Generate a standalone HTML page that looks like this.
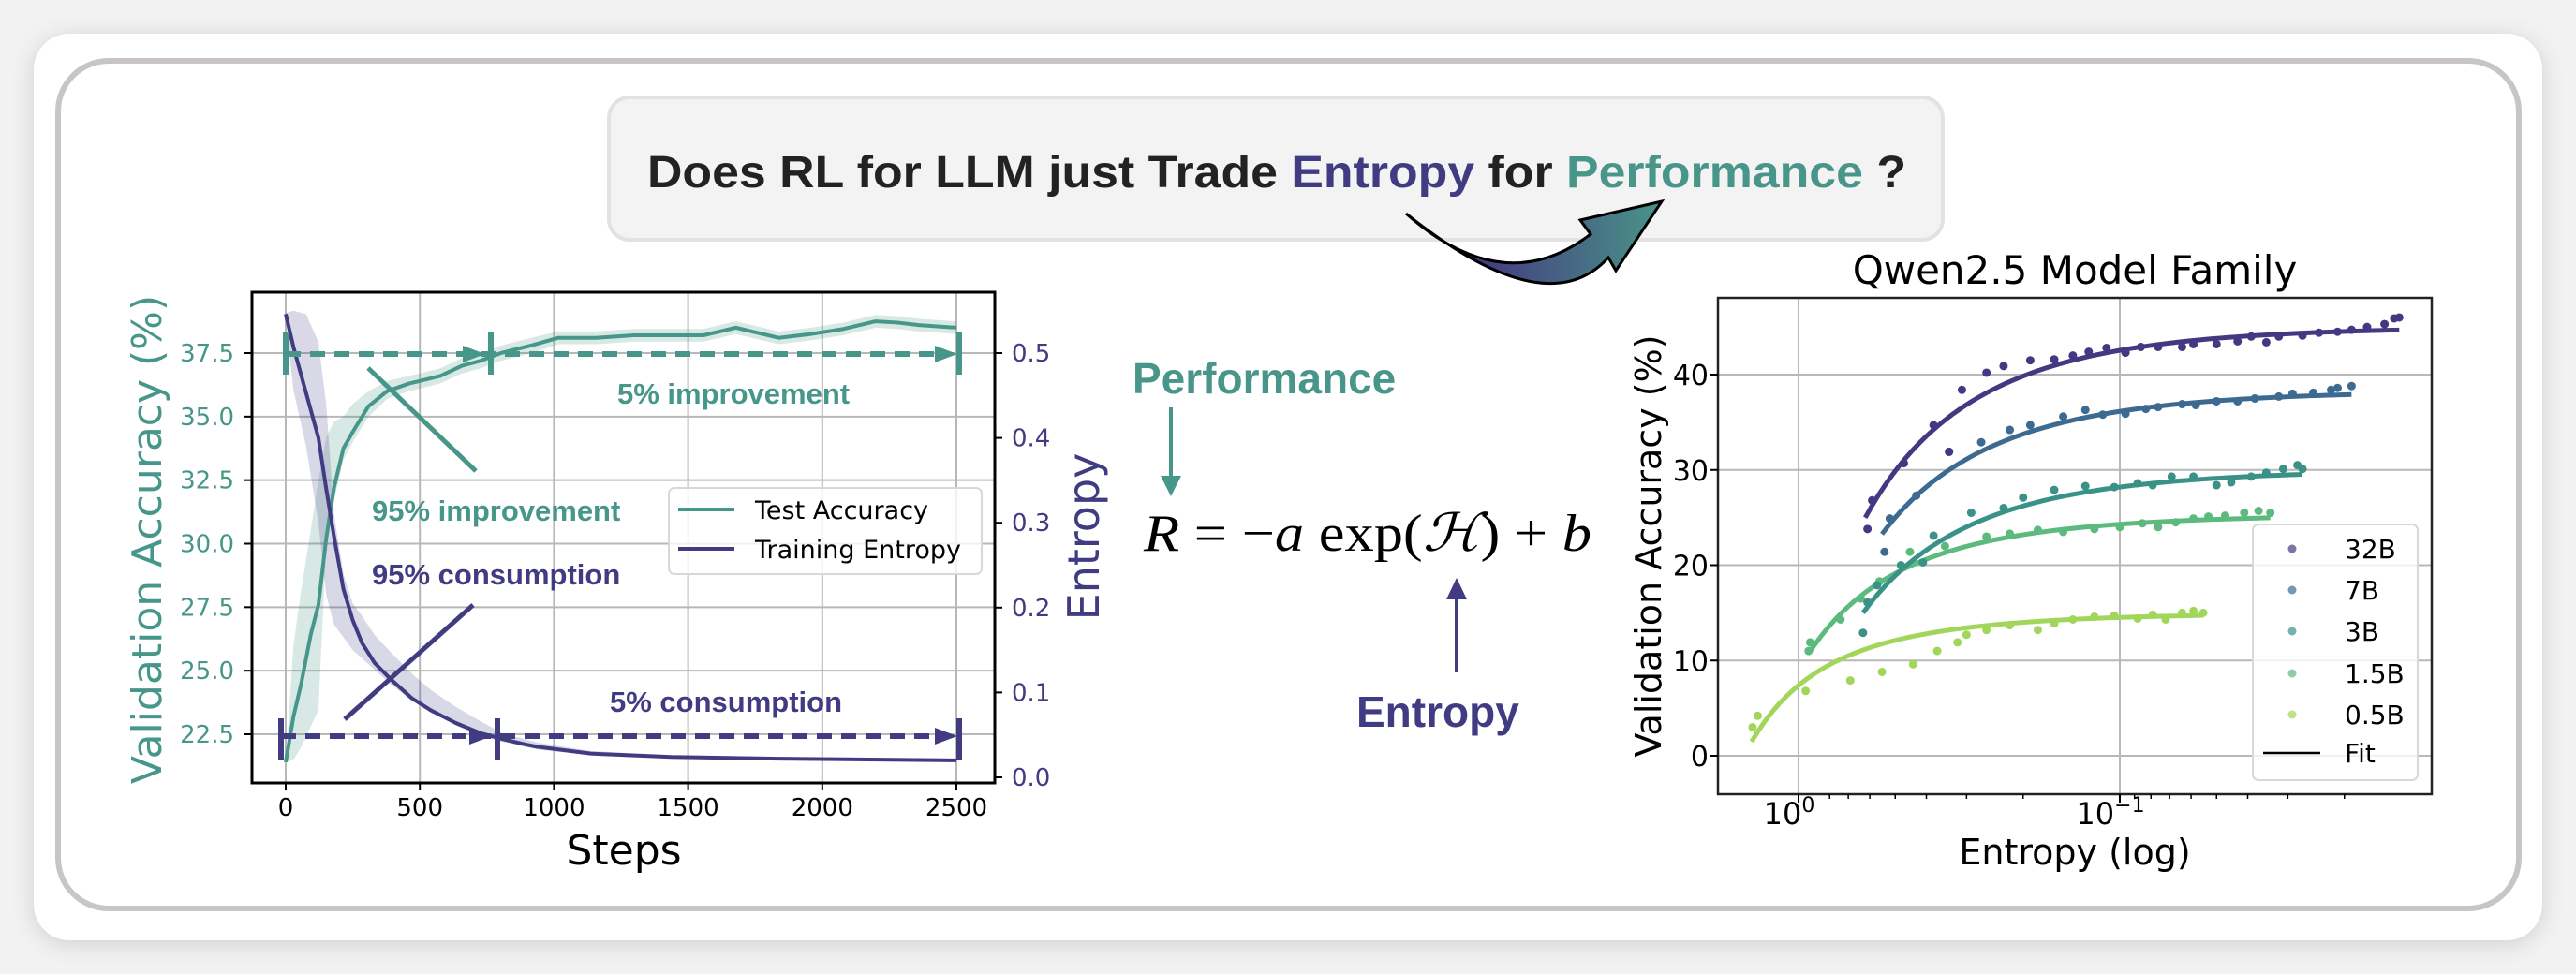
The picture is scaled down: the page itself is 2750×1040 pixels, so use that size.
<!DOCTYPE html>
<html><head><meta charset="utf-8"><style>
html,body{margin:0;padding:0;background:#f0f0f0;}
svg{display:block;}
</style></head><body>
<svg id="root" width="2750" height="1040" viewBox="0 0 2750 1040" xmlns="http://www.w3.org/2000/svg">
<defs>
<filter id="sh" x="-5%" y="-5%" width="110%" height="110%"><feGaussianBlur stdDeviation="12"/></filter>
<linearGradient id="arrG" x1="0" y1="0" x2="1" y2="0"><stop offset="0.3" stop-color="#433d80"/><stop offset="1" stop-color="#4a9488"/></linearGradient>
</defs>
<rect x="0" y="0" width="2750" height="1040" fill="#f2f2f2"/>
<rect x="36" y="40" width="2678" height="968" rx="38" fill="#cfcfcf" filter="url(#sh)"/>
<rect x="36" y="36" width="2678" height="968" rx="38" fill="#ffffff"/>
<rect x="62" y="65" width="2627" height="905" rx="54" fill="none" stroke="#c9c5c5" stroke-width="6"/>

<g>
<rect x="650" y="104" width="1424" height="152" rx="22" fill="#f3f3f3" stroke="#e2e2e2" stroke-width="4"/>
<text x="691" y="200" font-family="Liberation Sans, sans-serif" font-weight="bold" font-size="48" fill="#222" textLength="1344" lengthAdjust="spacingAndGlyphs">Does RL for LLM just Trade <tspan fill="#413b82">Entropy</tspan> for <tspan fill="#48958a">Performance</tspan> ?</text>
</g>
<path d="M1501,228 Q1606,321 1698,250 L1687,235 L1774,215 L1725,289 L1717,275 Q1651,348 1501,228 Z" fill="url(#arrG)" stroke="#000" stroke-width="3" stroke-linejoin="miter"/>

<g id="left"></g>
<g id="right"></g>

<g>
<text x="1209" y="420" font-family="Liberation Sans, sans-serif" font-weight="bold" font-size="46" fill="#48958a">Performance</text>
<line x1="1250" y1="435" x2="1250" y2="512" stroke="#48958a" stroke-width="4"/>
<polygon points="1239,508 1261,508 1250,530" fill="#48958a"/>
<text x="1221" y="588" font-family="Liberation Serif, serif" font-size="56" fill="#000" textLength="478" lengthAdjust="spacingAndGlyphs"><tspan font-style="italic">R</tspan> = −<tspan font-style="italic">a</tspan> exp(<tspan font-style="italic">ℋ</tspan>) + <tspan font-style="italic">b</tspan></text>
<line x1="1555" y1="718" x2="1555" y2="637" stroke="#413b82" stroke-width="4"/>
<polygon points="1544,640 1566,640 1555,617" fill="#413b82"/>
<text x="1448" y="776" font-family="Liberation Sans, sans-serif" font-weight="bold" font-size="46" fill="#413b82">Entropy</text>
</g>
</svg>
<script>
// ---------- Left chart data ----------
const accSteps=[0,29,58,93,122,151,180,215,250,308,378,459,500,576,657,727,802,916,1016,1157,1297,1437,1557,1678,1758,1838,1958,2079,2199,2279,2360,2500];
const testAcc=[21.4,23.2,24.5,26.4,27.6,30.2,32.2,33.75,34.4,35.4,36.0,36.3,36.4,36.6,37.0,37.2,37.5,37.8,38.1,38.1,38.2,38.2,38.2,38.5,38.3,38.1,38.25,38.45,38.75,38.7,38.6,38.5];
const accHi=[21.4,26.0,28.2,30.5,32.5,34.2,34.8,35.0,35.5,36.0,36.4,36.6,36.7,36.9,37.3,37.5,37.8,38.1,38.35,38.35,38.45,38.45,38.45,38.75,38.55,38.35,38.5,38.7,39.0,38.95,38.85,38.75];
const accLo=[21.4,21.5,22.0,22.8,23.45,30.0,31.7,33.3,34.0,35.0,35.7,36.0,36.1,36.3,36.7,36.9,37.2,37.5,37.85,37.85,37.95,37.95,37.95,38.25,38.05,37.85,38.0,38.2,38.5,38.45,38.35,38.25];
const entSteps=[0,29,76,122,151,180,215,250,285,331,390,471,541,634,727,808,890,936,1137,1437,1838,2500];
const trainEnt=[0.546,0.507,0.453,0.40,0.34,0.284,0.222,0.185,0.158,0.135,0.116,0.093,0.079,0.064,0.052,0.045,0.039,0.036,0.028,0.024,0.022,0.020];
const entHi=[0.547,0.55,0.546,0.513,0.44,0.31,0.24,0.205,0.19,0.168,0.148,0.122,0.103,0.083,0.066,0.052,0.045,0.041,0.031,0.026,0.024,0.022];
const entLo=[0.54,0.456,0.39,0.30,0.215,0.18,0.165,0.15,0.14,0.127,0.11,0.09,0.078,0.061,0.049,0.042,0.036,0.033,0.026,0.022,0.020,0.018];
const stepTicks=[0,500,1000,1500,2000,2500];
const accTicks=[22.5,25.0,27.5,30.0,32.5,35.0,37.5];
const entTicks=[0.0,0.1,0.2,0.3,0.4,0.5];

// ---------- Right chart data ----------
const modelSizes=['32B','7B','3B','1.5B','0.5B'];
const fitA=[23.3,20.5,17.1,9.5,4.42];
const fitB=[68.3,58.8,47.1,34.8,19.4];
const fitHStart=[0.62,0.55,0.63,0.93,1.4];
const fitHEnd=[0.0135,0.019,0.027,0.034,0.055];
const h32=[0.61,0.59,0.47,0.38,0.34,0.31,0.26,0.23,0.19,0.16,0.14,0.125,0.11,0.096,0.086,0.076,0.064,0.059,0.05,0.043,0.039,0.035,0.032,0.027,0.024,0.021,0.019,0.017,0.015,0.014,0.0135];
const acc32=[23.8,26.8,30.7,34.7,31.9,38.4,40.2,40.9,41.5,41.6,42.0,42.4,42.8,42.3,42.9,42.9,42.9,43.2,43.2,43.5,44.0,43.4,44.0,44.1,44.4,44.5,44.7,45.0,45.3,45.9,46.0];
const h7=[0.54,0.52,0.43,0.34,0.27,0.22,0.19,0.15,0.128,0.113,0.096,0.083,0.076,0.064,0.058,0.05,0.043,0.038,0.032,0.029,0.025,0.022,0.021,0.019];
const acc7=[21.4,24.9,27.3,31.9,32.9,34.2,34.7,35.6,36.3,35.8,35.9,36.4,36.6,36.9,36.8,37.2,37.2,37.5,37.7,38.0,38.1,38.4,38.6,38.8];
const h3=[0.63,0.61,0.57,0.48,0.41,0.38,0.29,0.23,0.2,0.16,0.128,0.104,0.088,0.079,0.069,0.059,0.05,0.045,0.039,0.035,0.031,0.028,0.027];
const acc3=[12.9,16.1,17.9,20.0,20.3,23.1,25.5,26.0,27.1,27.9,28.3,28.2,28.6,28.4,29.3,29.3,28.4,28.7,29.3,29.7,30.1,30.5,30.1];
const h15=[0.93,0.92,0.74,0.64,0.56,0.45,0.35,0.26,0.22,0.18,0.15,0.12,0.1,0.085,0.076,0.067,0.059,0.053,0.047,0.041,0.037,0.034];
const acc15=[11.0,11.9,14.3,16.5,18.3,21.4,22.0,23.0,23.3,23.7,23.5,23.8,24.0,24.4,24.0,24.5,24.9,25.1,25.2,25.5,25.7,25.5];
const h05=[1.39,1.34,0.95,0.69,0.55,0.44,0.37,0.32,0.3,0.26,0.22,0.18,0.16,0.14,0.12,0.104,0.088,0.079,0.072,0.064,0.059,0.055];
const acc05=[3.0,4.2,6.8,7.9,8.8,9.6,11.0,11.9,12.7,13.2,13.7,13.2,13.9,14.3,14.6,14.7,14.4,14.8,14.3,15.0,15.2,15.0];
const accYTicks=[0,10,20,30,40];

const NS='http://www.w3.org/2000/svg';
function mk(parent,tag,attrs,text){const e=document.createElementNS(NS,tag);for(const k in attrs)e.setAttribute(k,attrs[k]);if(text!==undefined)e.textContent=text;parent.appendChild(e);return e;}

// ===== LEFT CHART =====
const L=document.getElementById('left');
const TEAL='#47968a', PURP='#413b82';
const LX0=269,LX1=1062,LY0=312,LY1=836;
const sx=s=>305+s*(1021-305)/2500;
const ya=v=>377+(37.5-v)*(784-377)/15;
const ye=v=>830-v*(830-377)/0.5;

let g;
g=mk(L,'g',{});


stepTicks.forEach(t=>{const l=mk(g,'line',{x1:sx(t),x2:sx(t),y1:LY0,y2:LY1,stroke:'#b8b8b8','stroke-width':2});});
accTicks.forEach(t=>{const l=mk(g,'line',{x1:LX0,x2:LX1,y1:ya(t),y2:ya(t),stroke:'#b8b8b8','stroke-width':2});});

function band(xs,hi,lo,xf,yf,fill,name){
  let d='M'+xs.map((s,i)=>xf(s)+','+yf(hi[i])).join(' L');
  for(let i=xs.length-1;i>=0;i--)d+=' L'+xf(xs[i])+','+yf(lo[i]);
  const p=mk(L,'path',{d:d+'Z',fill:fill});
  
  
}
band(accSteps,accHi,accLo,sx,ya,'rgba(71,150,138,0.22)','accuracy-band');
band(entSteps,entHi,entLo,sx,ye,'rgba(65,59,130,0.2)','entropy-band');

let p=mk(L,'polyline',{points:accSteps.map((s,i)=>sx(s)+','+ya(testAcc[i])).join(' '),fill:'none',stroke:TEAL,'stroke-width':4,'stroke-linejoin':'round'});


p=mk(L,'polyline',{points:entSteps.map((s,i)=>sx(s)+','+ye(trainEnt[i])).join(' '),fill:'none',stroke:PURP,'stroke-width':4,'stroke-linejoin':'round'});



// annotations
function ann(color,y,xa,xb,xc,vy0,vy1,name){
  const a=mk(L,'g',{});
  
  
  mk(a,'line',{x1:xa,x2:xc-14,y1:y,y2:y,stroke:color,'stroke-width':6,'stroke-dasharray':'16,10'});
  mk(a,'polygon',{points:(xb-26)+','+(y-9)+' '+(xb-2)+','+y+' '+(xb-26)+','+(y+9),fill:color});
  mk(a,'polygon',{points:(xc-26)+','+(y-9)+' '+(xc-2)+','+y+' '+(xc-26)+','+(y+9),fill:color});
  [xa,xb+4,xc].forEach(x=>mk(a,'line',{x1:x,x2:x,y1:vy0,y2:vy1,stroke:color,'stroke-width':6}));
}
ann(TEAL,378,305,520,1024,355,400,'improvement-annotation');
ann(PURP,786,300,527,1024,767,812,'consumption-annotation');
let l2=mk(L,'line',{x1:393,y1:393,x2:508,y2:503,stroke:TEAL,'stroke-width':5});


l2=mk(L,'line',{x1:505,y1:646,x2:368,y2:768,stroke:PURP,'stroke-width':5});


const annTexts=[['5% improvement',659,431,TEAL],['95% improvement',397,556,TEAL],['95% consumption',397,624,PURP],['5% consumption',651,760,PURP]];
annTexts.forEach(a=>{const t=mk(L,'text',{x:a[1],y:a[2],'font-family':'Liberation Sans, sans-serif','font-weight':'bold','font-size':31,fill:a[3]},a[0]);});

// frame
let fr=mk(L,'rect',{x:LX0,y:LY0,width:LX1-LX0,height:LY1-LY0,fill:'none',stroke:'#000','stroke-width':3});


const F='DejaVu Sans, sans-serif';
stepTicks.forEach(t=>{mk(L,'line',{x1:sx(t),x2:sx(t),y1:LY1,y2:LY1+8,stroke:'#000','stroke-width':2});const tx=mk(L,'text',{x:sx(t),y:LY1+35,'font-family':F,'font-size':26,'text-anchor':'middle',fill:'#000'},String(t));});
accTicks.forEach(t=>{mk(L,'line',{x1:LX0-8,x2:LX0,y1:ya(t),y2:ya(t),stroke:'#000','stroke-width':2});const tx=mk(L,'text',{x:250,y:ya(t)+9,'font-family':F,'font-size':26,'text-anchor':'end',fill:TEAL},t.toFixed(1));});
entTicks.forEach(t=>{mk(L,'line',{x1:LX1,x2:LX1+8,y1:ye(t),y2:ye(t),stroke:'#000','stroke-width':2});const tx=mk(L,'text',{x:1080,y:ye(t)+9,'font-family':F,'font-size':26,fill:PURP},t.toFixed(1));});
let lab=mk(L,'text',{x:0,y:0,'font-family':F,'font-size':44,fill:TEAL,'text-anchor':'middle',transform:'translate(172,576) rotate(-90)'},'Validation Accuracy (%)');


lab=mk(L,'text',{x:0,y:0,'font-family':F,'font-size':46,fill:PURP,'text-anchor':'middle',transform:'translate(1173,573) rotate(-90)'},'Entropy');


lab=mk(L,'text',{x:666,y:923,'font-family':F,'font-size':44,'text-anchor':'middle',fill:'#000'},'Steps');


// legend
let lg=mk(L,'g',{});


mk(lg,'rect',{x:714,y:521,width:334,height:92,rx:6,fill:'rgba(255,255,255,0.8)',stroke:'#d8d8d8','stroke-width':2});
[['Test Accuracy',544,TEAL],['Training Entropy',586,PURP]].forEach(e=>{mk(lg,'line',{x1:724,x2:784,y1:e[1],y2:e[1],stroke:e[2],'stroke-width':4});const t=mk(lg,'text',{x:806,y:e[1]+10,'font-family':F,'font-size':27,fill:'#000'},e[0]);});

// ===== RIGHT CHART =====
const R=document.getElementById('right');
const RX0=1834,RX1=2596,RY0=318,RY1=848;
const hx=h=>1920-Math.log10(h)*(2263-1920);
const vy=v=>807-v*10.175;
const colors=['#453781','#3d6a90','#3a9188','#5cba7e','#a2d65a'];
const hs=[h32,h7,h3,h15,h05], accs=[acc32,acc7,acc3,acc15,acc05];

g=mk(R,'g',{});


[1,0.1].forEach(h=>mk(g,'line',{x1:hx(h),x2:hx(h),y1:RY0,y2:RY1,stroke:'#b8b8b8','stroke-width':2}));
accYTicks.forEach(v=>mk(g,'line',{x1:RX0,x2:RX1,y1:vy(v),y2:vy(v),stroke:'#b8b8b8','stroke-width':2}));

for(let k=modelSizes.length-1;k>=0;k--){
  const pts=[];
  const a0=Math.log10(fitHStart[k]),a1=Math.log10(fitHEnd[k]);
  for(let i=0;i<=80;i++){const lh=a0+(a1-a0)*i/80;const h=Math.pow(10,lh);pts.push(hx(h)+','+vy(-fitA[k]*Math.exp(h)+fitB[k]));}
  const f=mk(R,'polyline',{points:pts.join(' '),fill:'none',stroke:colors[k],'stroke-width':5});
  
  
  hs[k].forEach((h,i)=>{const c=mk(R,'circle',{cx:hx(h),cy:vy(accs[k][i]),r:4.5,fill:colors[k]});});
}
fr=mk(R,'rect',{x:RX0,y:RY0,width:RX1-RX0,height:RY1-RY0,fill:'none',stroke:'#222','stroke-width':2.5});


accYTicks.forEach(v=>{mk(R,'line',{x1:RX0-8,x2:RX0,y1:vy(v),y2:vy(v),stroke:'#000','stroke-width':2});const t=mk(R,'text',{x:1824,y:vy(v)+11,'font-family':F,'font-size':30,'text-anchor':'end',fill:'#000'},String(v));});
[[1,'0'],[0.1,'−1']].forEach(e=>{mk(R,'line',{x1:hx(e[0]),x2:hx(e[0]),y1:RY1,y2:RY1+9,stroke:'#000','stroke-width':2});const t=mk(R,'text',{x:hx(e[0])-10,y:880,'font-family':F,'font-size':32,'text-anchor':'middle',fill:'#000'});mk(t,'tspan',{},'10');mk(t,'tspan',{dy:-13,'font-size':22},e[1]);});
[0.8,0.7,0.6,0.5,0.4,0.3,0.2,0.09,0.08,0.07,0.06,0.05,0.04,0.03,0.02].forEach(h=>{if(hx(h)<RX1)mk(R,'line',{x1:hx(h),x2:hx(h),y1:RY1,y2:RY1+5,stroke:'#000','stroke-width':1.5});});
lab=mk(R,'text',{x:2215,y:303,'font-family':F,'font-size':42,'text-anchor':'middle',fill:'#000'},'Qwen2.5 Model Family');


lab=mk(R,'text',{x:2215,y:923,'font-family':F,'font-size':38,'text-anchor':'middle',fill:'#000'},'Entropy (log)');


lab=mk(R,'text',{x:0,y:0,'font-family':F,'font-size':38,'text-anchor':'middle',fill:'#000',transform:'translate(1773,583) rotate(-90)'},'Validation Accuracy (%)');


lg=mk(R,'g',{});


mk(lg,'rect',{x:2405,y:560,width:176,height:273,rx:6,fill:'rgba(255,255,255,0.8)',stroke:'#d8d8d8','stroke-width':2});
const legY=[586,630,674,719,763];
modelSizes.forEach((s,i)=>{mk(lg,'circle',{cx:2447,cy:legY[i],r:4.5,fill:colors[i],opacity:0.7});const t=mk(lg,'text',{x:2503,y:legY[i]+10,'font-family':F,'font-size':28,fill:'#000'},s);});
mk(lg,'line',{x1:2416,x2:2477,y1:804,y2:804,stroke:'#000','stroke-width':2.5});
let ft=mk(lg,'text',{x:2503,y:814,'font-family':F,'font-size':28,fill:'#000'},'Fit');


</script>
</body></html>
